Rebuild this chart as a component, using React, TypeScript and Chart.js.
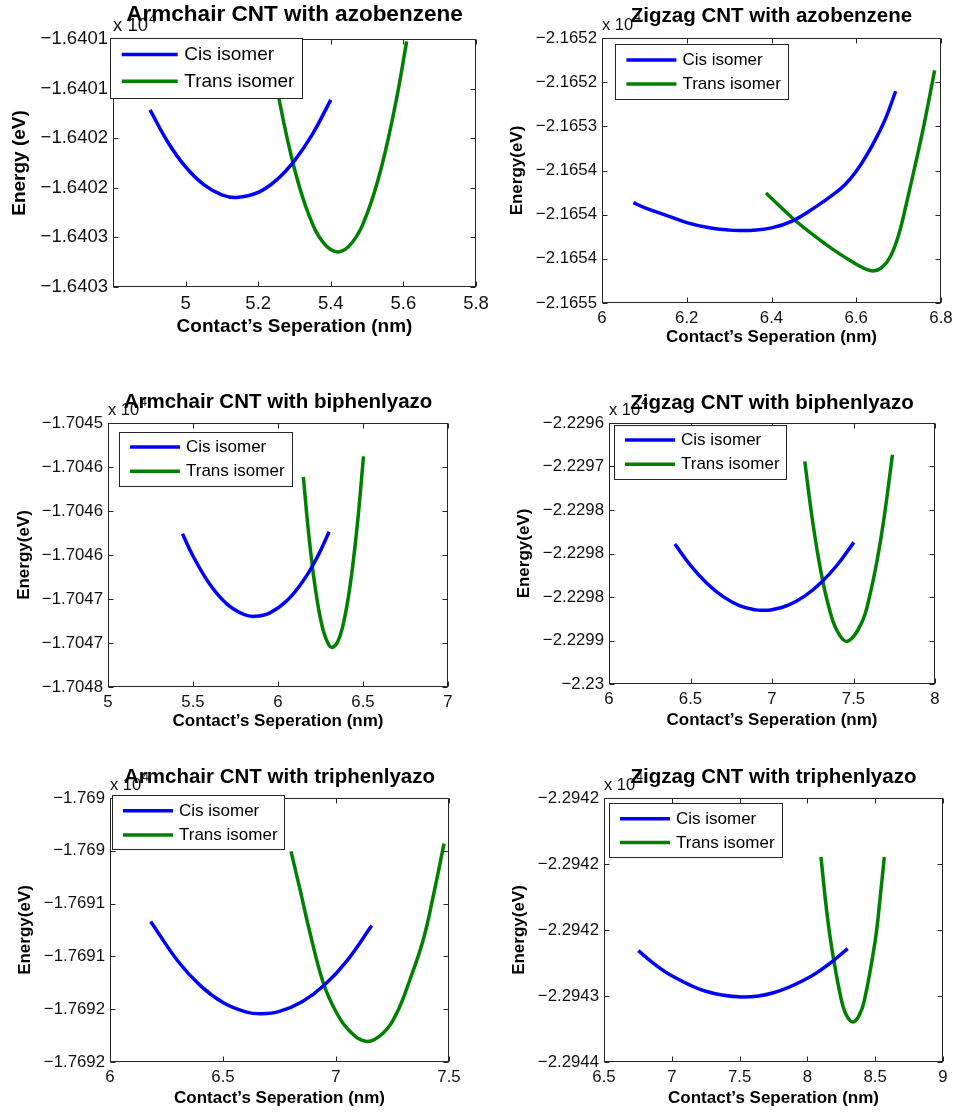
import React, { useEffect, useRef } from "react";
import { Chart, registerables } from "chart.js";

Chart.register(...registerables);

const FONT = "'Liberation Sans', Arial, Helvetica, sans-serif";

// ---------- series names / colours ----------
const seriesNames = ["Cis isomer", "Trans isomer"];
const seriesColors = ["#0000ff", "#008000"];

// ---------- Panel 1: Armchair CNT with azobenzene (energy x 10^4 eV) ----------
const p1CisX = [4.902, 4.95, 5.0, 5.05, 5.1, 5.141, 5.2, 5.25, 5.3, 5.35, 5.4];
const p1CisY = [-1.6401214, -1.6401533, -1.640179, -1.6401969, -1.6402071, -1.6402097, -1.6402046, -1.6401923, -1.6401726, -1.6401456, -1.6401113];
const p1TransX = [5.22, 5.26, 5.3, 5.34, 5.38, 5.42, 5.46, 5.5, 5.54, 5.58, 5.609];
const p1TransY = [-1.6400307, -1.6401153, -1.640181, -1.6402277, -1.6402556, -1.6402646, -1.6402547, -1.640226, -1.6401785, -1.6401122, -1.6400524];
const p1XTicks = [5, 5.2, 5.4, 5.6, 5.8];
const p1XLabels = ["5", "5.2", "5.4", "5.6", "5.8"];
const p1YTicks = [-1.6403, -1.64025, -1.6402, -1.64015, -1.6401, -1.64005];
const p1YLabels = ["\u22121.6403", "\u22121.6403", "\u22121.6402", "\u22121.6402", "\u22121.6401", "\u22121.6401"];

// ---------- Panel 2: Zigzag CNT with azobenzene ----------
const p2CisX = [6.074, 6.1, 6.15, 6.2, 6.25, 6.3, 6.33, 6.35, 6.4, 6.45, 6.5, 6.55, 6.575, 6.6, 6.625, 6.65, 6.67, 6.693];
const p2CisY = [-2.1653864, -2.165392, -2.1654005, -2.165409, -2.1654145, -2.1654175, -2.165418, -2.1654178, -2.165415, -2.165407, -2.1653926, -2.1653757, -2.1653652, -2.1653509, -2.1653324, -2.1653105, -2.1652901, -2.1652603];
const p2TransX = [6.387, 6.4, 6.45, 6.5, 6.55, 6.6, 6.62, 6.64, 6.66, 6.68, 6.7, 6.72, 6.74, 6.76, 6.785];
const p2TransY = [-2.1653755, -2.1653815, -2.165404, -2.1654235, -2.165441, -2.165456, -2.165461, -2.1654638, -2.16546, -2.165448, -2.165423, -2.165384, -2.165342, -2.165298, -2.1652366];
const p2XTicks = [6, 6.2, 6.4, 6.6, 6.8];
const p2XLabels = ["6", "6.2", "6.4", "6.6", "6.8"];
const p2YTicks = [-2.1655, -2.16545, -2.1654, -2.16535, -2.1653, -2.16525, -2.1652];
const p2YLabels = ["\u22122.1655", "\u22122.1654", "\u22122.1654", "\u22122.1654", "\u22122.1653", "\u22122.1652", "\u22122.1652"];

// ---------- Panel 3: Armchair CNT with biphenlyazo ----------
const p3CisX = [5.438, 5.5, 5.6, 5.7, 5.8, 5.864, 5.95, 6.05, 6.15, 6.23, 6.301];
const p3CisY = [-1.7046258, -1.7046511, -1.7046836, -1.7047058, -1.7047176, -1.7047197, -1.704716, -1.7047024, -1.7046788, -1.7046527, -1.7046235];
const p3TransX = [6.149, 6.18, 6.21, 6.24, 6.27, 6.3, 6.32, 6.35, 6.38, 6.41, 6.44, 6.47, 6.503];
const p3TransY = [-1.7045613, -1.7046252, -1.7046748, -1.7047125, -1.7047383, -1.7047523, -1.7047549, -1.7047491, -1.7047316, -1.7047024, -1.7046616, -1.7046091, -1.7045379];
const p3XTicks = [5, 5.5, 6, 6.5, 7];
const p3XLabels = ["5", "5.5", "6", "6.5", "7"];
const p3YTicks = [-1.7048, -1.70475, -1.7047, -1.70465, -1.7046, -1.70455, -1.7045];
const p3YLabels = ["\u22121.7048", "\u22121.7047", "\u22121.7047", "\u22121.7046", "\u22121.7046", "\u22121.7046", "\u22121.7045"];

// ---------- Panel 4: Zigzag CNT with biphenlyazo ----------
const p4CisX = [6.404, 6.5, 6.6, 6.7, 6.8, 6.9, 6.946, 7.0, 7.1, 7.2, 7.3, 7.4, 7.502];
const p4CisY = [-2.2297891, -2.2298137, -2.2298343, -2.2298496, -2.2298598, -2.2298648, -2.2298653, -2.2298646, -2.2298593, -2.229849, -2.2298336, -2.2298132, -2.2297872];
const p4TransX = [7.201, 7.25, 7.3, 7.35, 7.4, 7.463, 7.55, 7.6, 7.65, 7.69, 7.739];
const p4TransY = [-2.2296941, -2.2297642, -2.2298209, -2.2298624, -2.2298891, -2.2299009, -2.2298795, -2.2298481, -2.2298025, -2.2297558, -2.2296864];
const p4XTicks = [6, 6.5, 7, 7.5, 8];
const p4XLabels = ["6", "6.5", "7", "7.5", "8"];
const p4YTicks = [-2.22995, -2.2299, -2.22985, -2.2298, -2.22975, -2.2297, -2.22965];
const p4YLabels = ["\u22122.23", "\u22122.2299", "\u22122.2298", "\u22122.2298", "\u22122.2298", "\u22122.2297", "\u22122.2296"];

// ---------- Panel 5: Armchair CNT with triphenlyazo ----------
const p5CisX = [6.18, 6.3, 6.4, 6.5, 6.6, 6.671, 6.75, 6.85, 6.95, 7.05, 7.158];
const p5CisY = [-1.7690669, -1.7691044, -1.7691277, -1.7691437, -1.7691525, -1.7691543, -1.7691521, -1.769143, -1.7691269, -1.7691037, -1.7690707];
const p5TransX = [6.801, 6.841, 6.885, 6.944, 7.003, 7.062, 7.136, 7.209, 7.269, 7.327, 7.386, 7.43, 7.478];
const p5TransY = [-1.7690006, -1.7690368, -1.7690778, -1.7691252, -1.7691536, -1.769171, -1.7691805, -1.7691725, -1.7691536, -1.7691221, -1.7690842, -1.7690432, -1.7689933];
const p5XTicks = [6, 6.5, 7, 7.5];
const p5XLabels = ["6", "6.5", "7", "7.5"];
const p5YTicks = [-1.7692, -1.76915, -1.7691, -1.76905, -1.769, -1.76895];
const p5YLabels = ["\u22121.7692", "\u22121.7692", "\u22121.7691", "\u22121.7691", "\u22121.769", "\u22121.769"];

// ---------- Panel 6: Zigzag CNT with triphenlyazo ----------
const p6CisX = [6.753, 6.87, 7.0, 7.25, 7.516, 7.75, 8.0, 8.15, 8.297];
const p6CisY = [-2.2942657, -2.2942756, -2.2942846, -2.2942964, -2.2943007, -2.2942975, -2.2942866, -2.2942765, -2.2942641];
const p6TransX = [8.1, 8.14, 8.18, 8.25, 8.29, 8.336, 8.38, 8.42, 8.5, 8.535, 8.567];
const p6TransY = [-2.2941947, -2.2942336, -2.2942639, -2.2943028, -2.294315, -2.2943197, -2.2943151, -2.2943035, -2.2942581, -2.294227, -2.2941947];
const p6XTicks = [6.5, 7, 7.5, 8, 8.5, 9];
const p6XLabels = ["6.5", "7", "7.5", "8", "8.5", "9"];
const p6YTicks = [-2.29435, -2.2943, -2.29425, -2.2942, -2.29415];
const p6YLabels = ["\u22122.2944", "\u22122.2943", "\u22122.2942", "\u22122.2942", "\u22122.2942"];

// ---------- titles / labels ----------
const titles = [
  "Armchair CNT with azobenzene",
  "Zigzag CNT with azobenzene",
  "Armchair CNT with biphenlyazo",
  "Zigzag CNT with biphenlyazo",
  "Armchair CNT with triphenlyazo",
  "Zigzag CNT with triphenlyazo",
];
const yAxisTitles = ["Energy (eV)", "Energy(eV)", "Energy(eV)", "Energy(eV)", "Energy(eV)", "Energy(eV)"];
const xAxisTitle = "Contact\u2019s Seperation (nm)";
const exponentBase = "x 10";
const exponentPower = "4";

// ---------- layout (positions / sizes only) ----------
type Layout = {
  left: number; top: number; w: number; h: number;
  area: { l: number; t: number; r: number; b: number };
  big: boolean;
  titleY: number; xTitleY: number; yTitleX: number;
  legend: { x: number; y: number; w: number; h: number; lineOff: number; lineLen: number; gap: number; rows: number[] };
  tickPad: number;
};

const layouts: Layout[] = [
  { left: 0, top: 0, w: 500, h: 370, area: { l: 113, t: 39, r: 476, b: 287 }, big: true, titleY: 15, xTitleY: 326.5, yTitleX: 20,
    legend: { x: 110, y: 38, w: 192, h: 60, lineOff: 11.7, lineLen: 56, gap: 6.6, rows: [16.6, 43.3] }, tickPad: 6 },
  { left: 480, top: 0, w: 475, h: 370, area: { l: 122, t: 38, r: 461, b: 303 }, big: false, titleY: 16, xTitleY: 337, yTitleX: 37.5,
    legend: { x: 135, y: 44, w: 173, h: 55, lineOff: 11.4, lineLen: 50, gap: 6, rows: [16, 40] }, tickPad: 5 },
  { left: 0, top: 370, w: 480, h: 380, area: { l: 108, t: 53, r: 448, b: 317 }, big: false, titleY: 32.5, xTitleY: 351.7, yTitleX: 24.7,
    legend: { x: 119, y: 62, w: 173, h: 54, lineOff: 11, lineLen: 50, gap: 6, rows: [15, 39.3] }, tickPad: 5 },
  { left: 480, top: 370, w: 475, h: 380, area: { l: 129, t: 53, r: 455, b: 314 }, big: false, titleY: 33, xTitleY: 350, yTitleX: 44,
    legend: { x: 134, y: 55, w: 172, h: 54, lineOff: 11, lineLen: 50, gap: 6, rows: [15, 39.3] }, tickPad: 5 },
  { left: 0, top: 750, w: 480, h: 363, area: { l: 110, t: 48, r: 449, b: 312 }, big: false, titleY: 27, xTitleY: 348.3, yTitleX: 25.8,
    legend: { x: 112, y: 45, w: 172, h: 54, lineOff: 11, lineLen: 50, gap: 6, rows: [15.7, 40] }, tickPad: 5 },
  { left: 480, top: 750, w: 475, h: 363, area: { l: 124, t: 48, r: 463, b: 312 }, big: false, titleY: 27, xTitleY: 348.3, yTitleX: 39,
    legend: { x: 129, y: 53, w: 173, h: 54, lineOff: 11, lineLen: 50, gap: 6, rows: [15.7, 39.4] }, tickPad: 5 },
];

const panelData = [
  { cis: [p1CisX, p1CisY], trans: [p1TransX, p1TransY], xTicks: p1XTicks, xLabels: p1XLabels, xMin: 4.8, xMax: 5.8, yTicks: p1YTicks, yLabels: p1YLabels },
  { cis: [p2CisX, p2CisY], trans: [p2TransX, p2TransY], xTicks: p2XTicks, xLabels: p2XLabels, xMin: 6, xMax: 6.8, yTicks: p2YTicks, yLabels: p2YLabels },
  { cis: [p3CisX, p3CisY], trans: [p3TransX, p3TransY], xTicks: p3XTicks, xLabels: p3XLabels, xMin: 5, xMax: 7, yTicks: p3YTicks, yLabels: p3YLabels },
  { cis: [p4CisX, p4CisY], trans: [p4TransX, p4TransY], xTicks: p4XTicks, xLabels: p4XLabels, xMin: 6, xMax: 8, yTicks: p4YTicks, yLabels: p4YLabels },
  { cis: [p5CisX, p5CisY], trans: [p5TransX, p5TransY], xTicks: p5XTicks, xLabels: p5XLabels, xMin: 6, xMax: 7.5, yTicks: p5YTicks, yLabels: p5YLabels },
  { cis: [p6CisX, p6CisY], trans: [p6TransX, p6TransY], xTicks: p6XTicks, xLabels: p6XLabels, xMin: 6.5, xMax: 9, yTicks: p6YTicks, yLabels: p6YLabels },
];

const zip = (xs: number[], ys: number[]) => xs.map((x, i) => ({ x, y: ys[i] }));

const decorPlugin = {
  id: "decor",
  afterDraw(chart: any, _args: any, opts: any) {
    const L: Layout = opts.layout;
    const d = opts.data;
    const idx: number = opts.index;
    const { ctx, chartArea: a, scales } = chart;
    const fs = L.big
      ? { title: 22.5, label: 19, legend: 19, exp: 18.5, sup: 13 }
      : { title: 20.5, label: 17, legend: 17, exp: 16.5, sup: 12 };
    ctx.save();
    const axisColor = "#262626";
    // box
    ctx.strokeStyle = axisColor;
    ctx.lineWidth = 1;
    const l = Math.round(a.left) + 0.5, r = Math.round(a.right) - 0.5;
    const t = Math.round(a.top) + 0.5, b = Math.round(a.bottom) - 0.5;
    ctx.strokeRect(l, t, r - l, b - t);
    // inward ticks on all sides
    const tl = 5;
    ctx.beginPath();
    d.xTicks.forEach((v: number) => {
      const px = Math.round(scales.x.getPixelForValue(v)) + 0.5;
      ctx.moveTo(px, b); ctx.lineTo(px, b - tl);
      ctx.moveTo(px, t); ctx.lineTo(px, t + tl);
    });
    d.yTicks.forEach((v: number) => {
      const py = Math.round(scales.y.getPixelForValue(v)) + 0.5;
      ctx.moveTo(l, py); ctx.lineTo(l + tl, py);
      ctx.moveTo(r, py); ctx.lineTo(r - tl, py);
    });
    ctx.stroke();

    // exponent "x 10^4" (drawn under the title)
    ctx.fillStyle = "#111";
    ctx.textBaseline = "middle";
    ctx.textAlign = "left";
    ctx.font = `${fs.exp}px ${FONT}`;
    const ey = a.top - 13;
    ctx.fillText(exponentBase, a.left, ey);
    const ew = ctx.measureText(exponentBase).width;
    ctx.font = `${fs.sup}px ${FONT}`;
    ctx.fillText(exponentPower, a.left + ew + 1, ey - 7);

    // title
    ctx.fillStyle = "#000";
    ctx.textAlign = "center";
    ctx.font = `bold ${fs.title}px ${FONT}`;
    const cx = (a.left + a.right) / 2;
    ctx.fillText(titles[idx], cx, L.titleY);

    // x axis title
    ctx.font = `bold ${fs.label}px ${FONT}`;
    ctx.fillText(xAxisTitle, cx, L.xTitleY);

    // y axis title
    ctx.save();
    ctx.translate(L.yTitleX, (a.top + a.bottom) / 2);
    ctx.rotate(-Math.PI / 2);
    ctx.fillText(yAxisTitles[idx], 0, 0);
    ctx.restore();

    // legend (opaque box, MATLAB style)
    const lg = L.legend;
    ctx.fillStyle = "#fff";
    ctx.fillRect(lg.x, lg.y, lg.w, lg.h);
    ctx.strokeStyle = axisColor;
    ctx.lineWidth = 1;
    ctx.strokeRect(Math.round(lg.x) + 0.5, Math.round(lg.y) + 0.5, Math.round(lg.w), Math.round(lg.h));
    ctx.font = `${fs.legend}px ${FONT}`;
    ctx.textAlign = "left";
    chart.data.datasets.forEach((ds: any, i: number) => {
      const yy = lg.y + lg.rows[i];
      ctx.strokeStyle = ds.borderColor;
      ctx.lineWidth = 3.5;
      ctx.beginPath();
      ctx.moveTo(lg.x + lg.lineOff, yy);
      ctx.lineTo(lg.x + lg.lineOff + lg.lineLen, yy);
      ctx.stroke();
      ctx.fillStyle = "#000";
      ctx.fillText(ds.label, lg.x + lg.lineOff + lg.lineLen + lg.gap, yy + 0.5);
    });
    ctx.restore();
  },
};

function Panel({ index }: { index: number }) {
  const ref = useRef<HTMLCanvasElement>(null);
  const L = layouts[index];
  const d = panelData[index];
  useEffect(() => {
    if (!ref.current) return;
    const tickSize = L.big ? 18.5 : 16.8;
    const chart = new Chart(ref.current, {
      type: "line",
      data: {
        datasets: [
          { label: seriesNames[0], data: zip(d.cis[0], d.cis[1]), borderColor: seriesColors[0], backgroundColor: seriesColors[0] },
          { label: seriesNames[1], data: zip(d.trans[0], d.trans[1]), borderColor: seriesColors[1], backgroundColor: seriesColors[1] },
        ],
      },
      options: {
        animation: false,
        responsive: false,
        devicePixelRatio: 1,
        layout: {
          autoPadding: false,
          padding: { left: 0, top: L.area.t, right: L.w - L.area.r, bottom: 0 },
        },
        elements: {
          line: { borderWidth: 3.5, tension: 0.4, fill: false, borderCapStyle: "butt", borderJoinStyle: "round" },
          point: { radius: 0, hoverRadius: 0 },
        },
        plugins: {
          legend: { display: false },
          title: { display: false },
          tooltip: { enabled: false },
          decor: { layout: L, data: d, index },
        } as any,
        scales: {
          x: {
            type: "linear",
            min: d.xMin,
            max: d.xMax,
            grid: { display: false, drawTicks: false },
            border: { display: false },
            ticks: {
              autoSkip: false,
              maxRotation: 0,
              padding: L.tickPad,
              color: "#111",
              font: { family: FONT, size: tickSize },
              callback: (_v: any, i: number) => d.xLabels[i],
            },
            afterBuildTicks: (s: any) => { s.ticks = d.xTicks.map((v) => ({ value: v })); },
            afterFit: (s: any) => { s.height = L.h - L.area.b; s.paddingLeft = 0; s.paddingRight = 0; },
          },
          y: {
            type: "linear",
            min: d.yTicks[0],
            max: d.yTicks[d.yTicks.length - 1],
            grid: { display: false, drawTicks: false },
            border: { display: false },
            ticks: {
              autoSkip: false,
              padding: 5,
              color: "#111",
              font: { family: FONT, size: tickSize },
              callback: (_v: any, i: number) => d.yLabels[i],
            },
            afterBuildTicks: (s: any) => { s.ticks = d.yTicks.map((v) => ({ value: v })); },
            afterFit: (s: any) => { s.width = L.area.l; s.paddingTop = 0; s.paddingBottom = 0; },
          },
        },
      } as any,
      plugins: [decorPlugin],
    });
    return () => chart.destroy();
  }, []);
  return (
    <canvas
      ref={ref}
      width={L.w}
      height={L.h}
      style={{ position: "absolute", left: L.left, top: L.top, width: L.w, height: L.h }}
    />
  );
}

export default function App() {
  return (
    <div style={{ position: "absolute", left: 0, top: 0, width: 955, height: 1113, background: "#fff", overflow: "hidden" }}>
      {layouts.map((_, i) => (
        <Panel key={i} index={i} />
      ))}
    </div>
  );
}
